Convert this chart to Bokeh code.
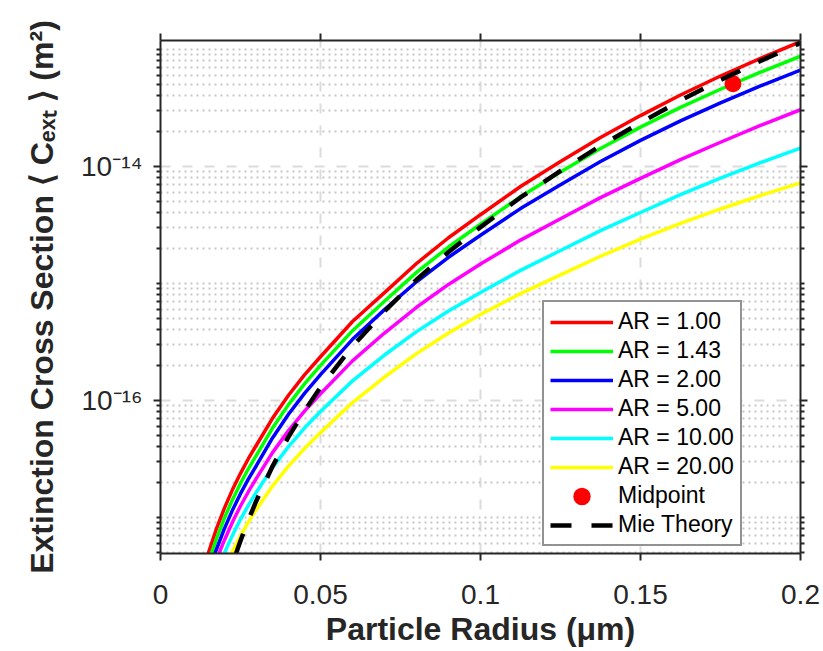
from bokeh.plotting import figure
from bokeh.models import (Range1d, FixedTicker, LinearAxis, LogAxis, Legend, LegendItem,
                          CustomJSTickFormatter)
from bokeh.embed import file_html
from bokeh.resources import INLINE

# ---------------- data ----------------
labels_ar = ["AR = 1.00", "AR = 1.43", "AR = 2.00", "AR = 5.00", "AR = 10.00", "AR = 20.00"]
colors_ar = ["#FF0000", "#00FF00", "#0000FF", "#FF00FF", "#00FFFF", "#FFFF00"]

# particle radius (um) and log10 of <C_ext> (m^2)
r_ar100 = [0.0149, 0.0175, 0.02, 0.0225, 0.025, 0.0275, 0.03, 0.035, 0.04, 0.045, 0.05, 0.06, 0.07,
           0.08, 0.09, 0.1, 0.1125, 0.125, 0.1375, 0.15, 0.1625, 0.175, 0.1875, 0.2]
lg_ar100 = [-17.308, -17.095, -16.918, -16.762, -16.623, -16.496, -16.381, -16.153, -15.956, -15.782,
            -15.627, -15.326, -15.079, -14.830, -14.610, -14.413, -14.172, -13.958, -13.753, -13.566,
            -13.390, -13.228, -13.077, -12.935]

r_ar143 = [0.0159, 0.0175, 0.02, 0.0225, 0.025, 0.0275, 0.03, 0.035, 0.04, 0.045, 0.05, 0.06, 0.07,
           0.08, 0.09, 0.1, 0.1125, 0.125, 0.1375, 0.15, 0.1625, 0.175, 0.1875, 0.2]
lg_ar143 = [-17.308, -17.181, -17.004, -16.848, -16.709, -16.582, -16.467, -16.236, -16.036, -15.859,
            -15.701, -15.404, -15.153, -14.906, -14.689, -14.495, -14.259, -14.049, -13.848, -13.665,
            -13.496, -13.341, -13.195, -13.059]

r_ar200 = [0.0170, 0.02, 0.0225, 0.025, 0.0275, 0.03, 0.035, 0.04, 0.045, 0.05, 0.06, 0.07,
           0.08, 0.09, 0.1, 0.1125, 0.125, 0.1375, 0.15, 0.1625, 0.175, 0.1875, 0.2]
lg_ar200 = [-17.308, -17.093, -16.937, -16.797, -16.671, -16.556, -16.321, -16.118, -15.940, -15.779,
            -15.478, -15.224, -14.986, -14.777, -14.589, -14.361, -14.158, -13.959, -13.778, -13.611,
            -13.457, -13.313, -13.178]

r_ar500 = [0.0183, 0.02, 0.0225, 0.025, 0.0275, 0.03, 0.035, 0.04, 0.045, 0.05, 0.06, 0.07,
           0.08, 0.09, 0.1, 0.1125, 0.125, 0.1375, 0.15, 0.1625, 0.175, 0.1875, 0.2]
lg_ar500 = [-17.308, -17.192, -17.039, -16.902, -16.778, -16.664, -16.446, -16.258, -16.092, -15.943,
            -15.662, -15.424, -15.204, -15.009, -14.835, -14.630, -14.447, -14.267, -14.102, -13.942,
            -13.794, -13.650, -13.516]

r_ar1000 = [0.0199, 0.0225, 0.025, 0.0275, 0.03, 0.035, 0.04, 0.045, 0.05, 0.06, 0.07,
            0.08, 0.09, 0.1, 0.1125, 0.125, 0.1375, 0.15, 0.1625, 0.175, 0.1875, 0.2]
lg_ar1000 = [-17.308, -17.151, -17.016, -16.894, -16.782, -16.574, -16.395, -16.236, -16.094,
             -15.833, -15.612, -15.412, -15.236, -15.078, -14.889, -14.719, -14.549, -14.394,
             -14.241, -14.100, -13.968, -13.844]

r_ar2000 = [0.0221, 0.025, 0.0275, 0.03, 0.035, 0.04, 0.045, 0.05, 0.06, 0.07,
            0.08, 0.09, 0.1, 0.1125, 0.125, 0.1375, 0.15, 0.1625, 0.175, 0.1875, 0.2]
lg_ar2000 = [-17.308, -17.156, -17.038, -16.930, -16.732, -16.561, -16.411, -16.275, -16.018,
             -15.800, -15.600, -15.424, -15.266, -15.087, -14.927, -14.768, -14.622, -14.488,
             -14.364, -14.249, -14.141]

r_mie = [0.0236, 0.025, 0.0275, 0.03, 0.035, 0.04, 0.045, 0.05, 0.06, 0.07,
         0.08, 0.09, 0.1, 0.1125, 0.125, 0.1375, 0.15, 0.1625, 0.175, 0.1875, 0.2]
lg_mie = [-17.308, -17.199, -17.019, -16.855, -16.563, -16.311, -16.089, -15.889, -15.537, -15.239,
          -14.969, -14.732, -14.519, -14.266, -14.039, -13.824, -13.627, -13.437, -13.262, -13.099,
          -12.946]

mid_r = [0.1789]
mid_c = [5.09e-14]

x_ticks = [0, 0.05, 0.1, 0.15, 0.2]
x_tick_labels = ["0", "0.05", "0.1", "0.15", "0.2"]
y_ticks = [1e-16, 1e-14]
y_tick_labels = ["10\u207b\u00b9\u2076", "10\u207b\u00b9\u2074"]

series_r = [r_ar100, r_ar143, r_ar200, r_ar500, r_ar1000, r_ar2000]
series_lg = [lg_ar100, lg_ar143, lg_ar200, lg_ar500, lg_ar1000, lg_ar2000]

# ---------------- figure ----------------
Y_MIN, Y_MAX = 4.92e-18, 1.19e-13
FONT = "Liberation Sans"
DARK = "#262626"

p = figure(frame_width=640, frame_height=513, y_axis_type="log",
           x_range=Range1d(0, 0.2), y_range=Range1d(Y_MIN, Y_MAX),
           output_backend="svg", toolbar_location=None,
           min_border_left=160, min_border_right=20, min_border_top=40, min_border_bottom=96,
           background_fill_color="white", border_fill_color="white")
p.outline_line_color = None

minor_y = []
for d in range(-18, -12):
    for m in range(1, 10):
        v = m * 10.0 ** d
        if Y_MIN * 0.999 <= v <= Y_MAX and not any(abs(v - t) / t < 1e-6 for t in y_ticks):
            minor_y.append(v)

xt = FixedTicker(ticks=x_ticks, minor_ticks=[])
yt = FixedTicker(ticks=y_ticks, minor_ticks=minor_y)
pick = """
for (let i = 0; i < tvals.length; i++) {
  if (Math.abs(tick - tvals[i]) <= 1e-9 * Math.abs(tvals[i]) + 1e-30) { return tlabels[i]; }
}
return '';
"""
x_fmt = CustomJSTickFormatter(args=dict(tvals=x_ticks, tlabels=x_tick_labels), code=pick)
y_fmt = CustomJSTickFormatter(args=dict(tvals=y_ticks, tlabels=y_tick_labels), code=pick)
blank = CustomJSTickFormatter(code="return ''")


def style_axis(ax):
    ax.axis_line_color = DARK
    ax.axis_line_width = 2
    ax.major_tick_line_color = DARK
    ax.major_tick_line_width = 2
    ax.minor_tick_line_color = DARK
    ax.minor_tick_line_width = 2
    ax.major_tick_in = 0
    ax.minor_tick_in = 0
    ax.major_tick_out = 7
    ax.minor_tick_out = 4
    ax.major_label_text_font = FONT
    ax.major_label_text_font_size = "28px"
    ax.major_label_text_color = DARK
    ax.axis_label_text_font = FONT
    ax.axis_label_text_font_style = "bold"
    ax.axis_label_text_color = DARK


def hide_labels(ax):
    ax.formatter = blank
    ax.major_label_standoff = 0
    ax.major_label_text_font_size = "1px"


# bottom axis
xa = p.xaxis[0]
xa.ticker = xt
style_axis(xa)
xa.formatter = x_fmt
xa.major_label_standoff = 24
xa.axis_label = "Particle Radius (\u03bcm)"
xa.axis_label_text_font_size = "32px"
xa.axis_label_standoff = 4

# left axis
ya = p.yaxis[0]
ya.ticker = yt
style_axis(ya)
ya.formatter = y_fmt
ya.major_label_standoff = 11
ya.axis_label = "Extinction Cross Section \u27e8 C\u2091\u2093\u209c \u27e9 (m\u00b2)"
ya.axis_label_text_font_size = "32px"
ya.axis_label_standoff = 18

# top / right axes (ticks only)
top = LinearAxis(ticker=xt)
style_axis(top)
hide_labels(top)
p.add_layout(top, "above")
right = LogAxis(ticker=yt)
style_axis(right)
hide_labels(right)
p.add_layout(right, "right")

# grids
p.xgrid.ticker = FixedTicker(ticks=x_ticks)
p.xgrid.grid_line_color = "#DCDCDC"
p.xgrid.grid_line_width = 2
p.xgrid.grid_line_dash = "10 12"
p.ygrid.ticker = yt
p.ygrid.grid_line_color = "#DCDCDC"
p.ygrid.grid_line_width = 2
p.ygrid.grid_line_dash = "10 12"
p.ygrid.minor_grid_line_color = "#C6C6C6"
p.ygrid.minor_grid_line_width = 2
p.ygrid.minor_grid_line_dash = "2 4"

# curves
renderers = []
for rr, lg, col in zip(series_r, series_lg, colors_ar):
    renderers.append(p.line(rr, [10.0 ** v for v in lg], line_color=col, line_width=3.5))
mid = p.scatter(mid_r, mid_c, marker="circle", size=10, fill_color="#FF0000",
                line_color="#FF0000", line_width=7)
mie = p.line(r_mie, [10.0 ** v for v in lg_mie], line_color="black", line_width=4.5,
             line_dash="21 20")

items = [LegendItem(label=l, renderers=[r]) for l, r in zip(labels_ar, renderers)]
items.append(LegendItem(label="Midpoint", renderers=[mid]))
items.append(LegendItem(label="Mie Theory", renderers=[mie]))
legend = Legend(items=items, location=(382, 7), glyph_width=63, glyph_height=26,
                label_height=26, spacing=2, padding=6, margin=0, label_standoff=5,
                label_text_font=FONT, label_text_font_size="23px", label_text_color="black",
                border_line_color=DARK, border_line_width=2, background_fill_color="white",
                background_fill_alpha=1.0)
p.add_layout(legend)

open("out.html", "w").write(file_html(p, INLINE))
